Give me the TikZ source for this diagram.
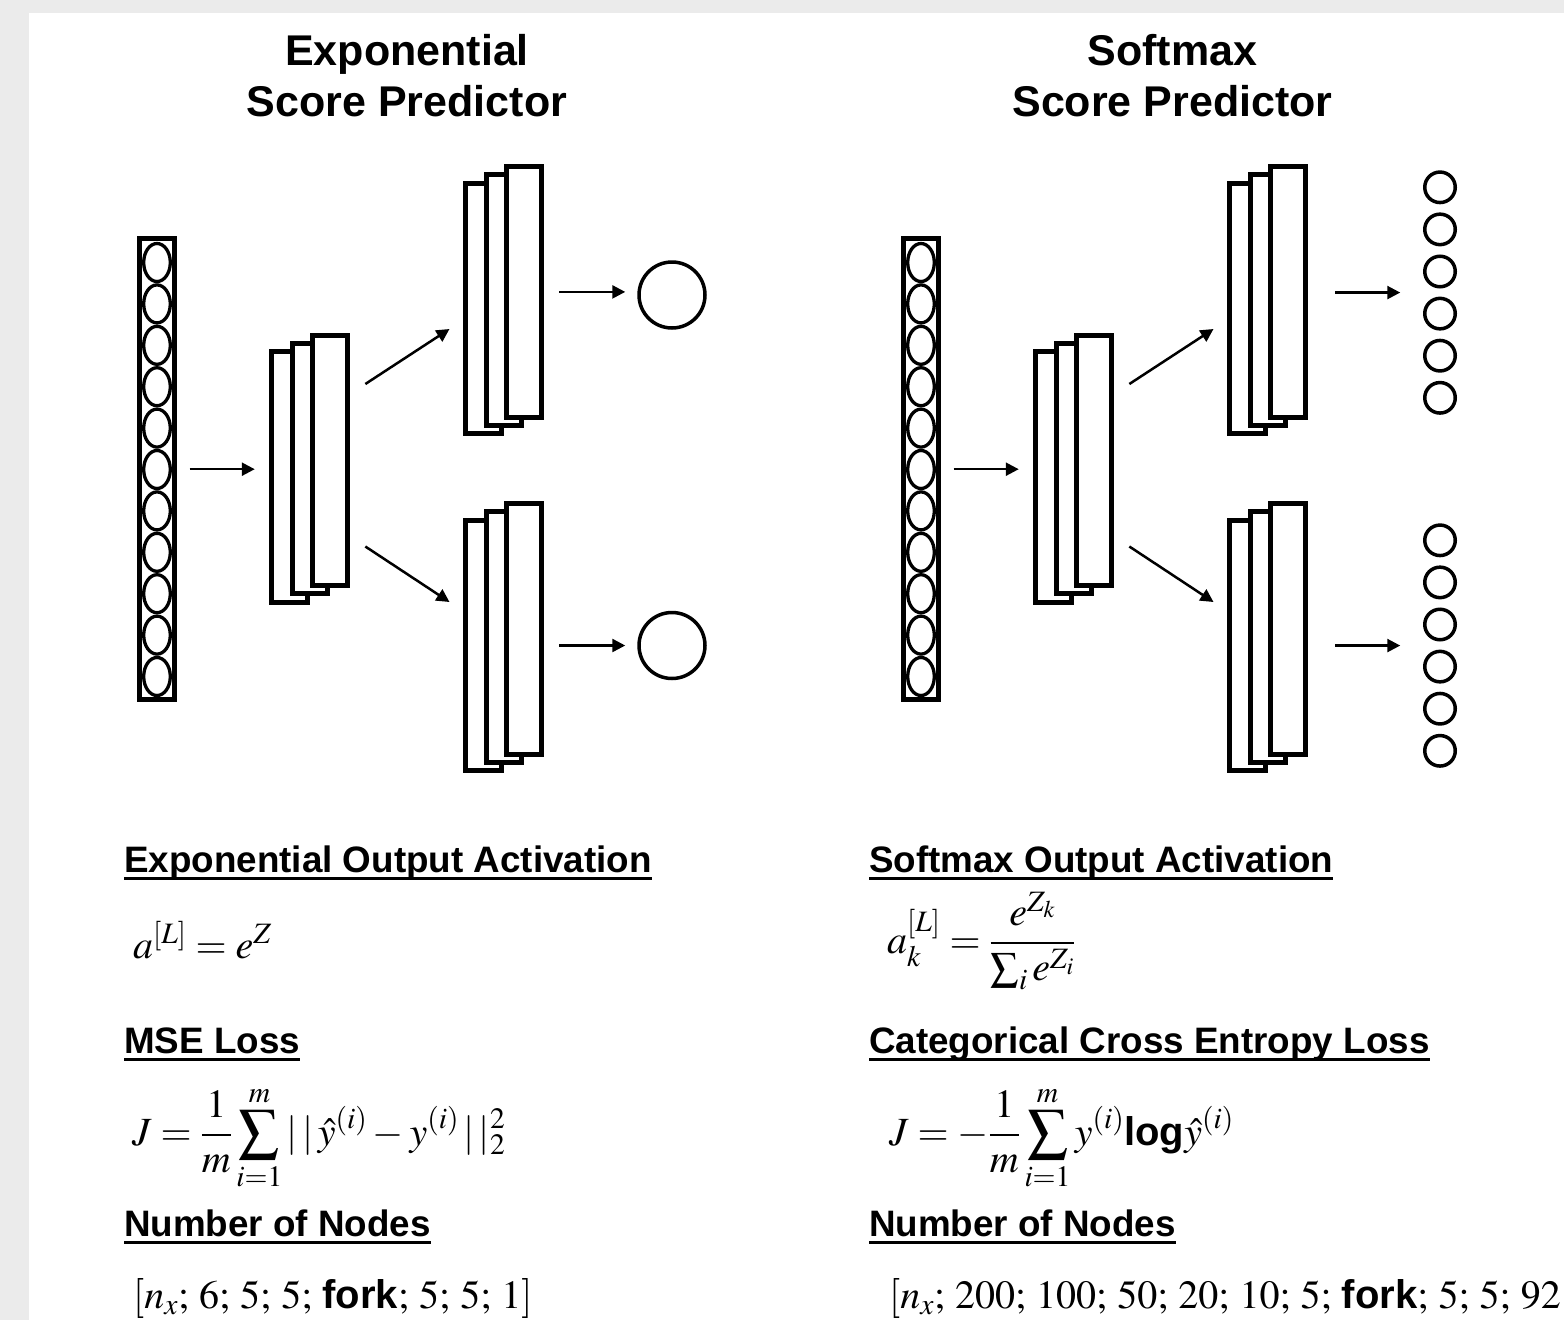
\documentclass[tikz,border=0pt]{standalone}
\usepackage{mathptmx}
\usepackage[no-math]{fontspec}
\newfontfamily\headfont{Liberation Sans}
\usetikzlibrary{shapes.geometric,arrows.meta,calc}
\definecolor{frame}{HTML}{EBEBEB}

% underlined heading, rule sits just under the baseline
\newcommand{\ulhead}[1]{\setbox0\hbox{#1}\rlap{\rule[-0.21em]{\wd0}{0.07em}}\box0}
\newcommand{\bsf}[1]{\mbox{\headfont\bfseries #1}}
% list separator with a wider gap than \mathpunct gives
\newcommand{\nsep}{\mathord{;}\mskip4.5mu}

\begin{document}
\begin{tikzpicture}[
  x=1pt, y=-1pt,
  column/.style={draw, line width=5pt, minimum width=35pt, minimum height=461.5pt, inner sep=0pt},
  unit/.style={ellipse, draw, line width=3.3pt, minimum width=26.6pt, minimum height=38pt, inner sep=0pt},
  layer/.style={draw, line width=5pt, fill=white, minimum width=35.5pt, minimum height=250.5pt, inner sep=0pt},
  score/.style={circle, draw, line width=3.5pt, minimum size=66pt, inner sep=0pt},
  cls/.style={circle, draw, line width=3.5pt, minimum size=30.5pt, inner sep=0pt},
  >={Triangle[length=13pt,width=13pt]},
  arr/.style={->, line width=2.5pt},
  title/.style={font=\headfont\bfseries\fontsize{43}{51}\selectfont, align=center, inner sep=0pt, anchor=base},
  head/.style={font=\headfont\bfseries\fontsize{36.8}{44}\selectfont, anchor=base west, inner sep=0pt},
  eq/.style={font=\fontsize{40}{48}\selectfont, anchor=base west, inner sep=0pt}
]
\useasboundingbox (0,0) rectangle (1564,1320);
\fill[frame] (0,0) rectangle (1564,1320);
\fill[white] (29,13) rectangle (1564,1320);

% ---------------------------------------------------------------- exponential net
\node[title] (ttlL) at (407,116) {Exponential\\Score Predictor};

\node[column] (inL) at (157,469.2) {};
\foreach \k in {0,...,10}
  \node[unit] (inL\k) at (157,262.5+41.4*\k) {};

\node[layer] (hidLa) at (289.5,477) {};
\node[layer] (hidLb) at ([shift={(20.3,-8.3)}]hidLa) {};
\node[layer] (hidLc) at ([shift={(20.3,-8.3)}]hidLb) {};

\node[layer] (upLa) at (483.5,308.5) {};
\node[layer] (upLb) at ([shift={(20.3,-8.3)}]upLa) {};
\node[layer] (upLc) at ([shift={(20.3,-8.3)}]upLb) {};

\node[layer] (dnLa) at (483.5,645.5) {};
\node[layer] (dnLb) at ([shift={(20.3,-8.3)}]dnLa) {};
\node[layer] (dnLc) at ([shift={(20.3,-8.3)}]dnLb) {};

\node[score] (scoreU) at (672,295) {};
\node[score] (scoreD) at (672,645.5) {};

\draw[arr] ([xshift=12.5pt]inL.east) -- ([xshift=-14.5pt]inL.east -| hidLa.west);
\draw[arr] ([shift={(15,-76.4)}]hidLc.east) -- ([shift={(-13.75,20.5)}]upLa.west);
\draw[arr] ([shift={(15,86.1)}]hidLc.east) -- ([shift={(-13.75,-43.5)}]dnLa.west);
\draw[arr] ([xshift=15pt]upLc.east) -- ([xshift=-12pt]upLc.east -| scoreU.west);
\draw[arr] ([xshift=15pt]scoreD.west -| dnLc.east) -- ([xshift=-12pt]scoreD.west);

% ---------------------------------------------------------------- softmax net
\node[title] (ttlR) at (1172.5,116) {Softmax\\Score Predictor};

\node[column] (inR) at (921,469.2) {};
\foreach \k in {0,...,10}
  \node[unit] (inR\k) at (921,262.5+41.4*\k) {};

\node[layer] (hidRa) at (1053.5,477) {};
\node[layer] (hidRb) at ([shift={(20.3,-8.3)}]hidRa) {};
\node[layer] (hidRc) at ([shift={(20.3,-8.3)}]hidRb) {};

\node[layer] (upRa) at (1247.5,308.5) {};
\node[layer] (upRb) at ([shift={(20.3,-8.3)}]upRa) {};
\node[layer] (upRc) at ([shift={(20.3,-8.3)}]upRb) {};

\node[layer] (dnRa) at (1247.5,645.5) {};
\node[layer] (dnRb) at ([shift={(20.3,-8.3)}]dnRa) {};
\node[layer] (dnRc) at ([shift={(20.3,-8.3)}]dnRb) {};

\foreach \k in {0,...,5} {
  \node[cls] (clsU\k) at (1440,187.3+42.1*\k) {};
  \node[cls] (clsD\k) at (1440,540.3+42.1*\k) {};
}
\coordinate (midU) at ($(clsU2.west)!0.5!(clsU3.west)$);
\coordinate (midD) at ($(clsD2.west)!0.5!(clsD3.west)$);

\draw[arr] ([xshift=12.5pt]inR.east) -- ([xshift=-14.5pt]inR.east -| hidRa.west);
\draw[arr] ([shift={(15,-76.4)}]hidRc.east) -- ([shift={(-13.75,20.5)}]upRa.west);
\draw[arr] ([shift={(15,86.1)}]hidRc.east) -- ([shift={(-13.75,-43.5)}]dnRa.west);
\draw[arr] ([xshift=27pt]midU -| upRc.east) -- ([xshift=-22.75pt]midU);
\draw[arr] ([xshift=27pt]midD -| dnRc.east) -- ([xshift=-22.75pt]midD);

% ---------------------------------------------------------------- formulas
\node[head] (actL) at (124,872) {\ulhead{Exponential Output Activation}};
\node[eq] (eqactL) at (133,958) {$a^{[L]} = e^{Z}$};
\node[head] (lossL) at (124,1053) {\ulhead{MSE Loss}};
\node[eq] (eqlossL) at (132,1145) {$\displaystyle J = \frac{1}{m}\sum_{i=1}^{m} |\,|\,\hat{y}^{(i)} - y^{(i)}\,|\,|_2^2$};
\node[head] (sizeL) at (124,1236) {\ulhead{Number of Nodes}};
\node[eq] (nodesL) at (133,1308) {$[n_x\nsep 6\nsep 5\nsep 5\nsep \bsf{fork}\nsep 5\nsep 5\nsep 1]$};

\node[head] (actR) at (869,872) {\ulhead{Softmax Output Activation}};
\node[eq] (eqactR) at (887,953) {$\displaystyle a_k^{[L]} = \frac{e^{Z_k}}{\sum_i e^{Z_i}}$};
\node[head] (lossR) at (869,1053) {\ulhead{Categorical Cross Entropy Loss}};
\node[eq] (eqlossR) at (889,1145) {$\displaystyle J = -\frac{1}{m}\sum_{i=1}^{m} y^{(i)}\bsf{log}\hat{y}^{(i)}$};
\node[head] (sizeR) at (869,1236) {\ulhead{Number of Nodes}};
\node[eq] (nodesR) at (889,1308) {$[n_x\nsep 200\nsep 100\nsep 50\nsep 20\nsep 10\nsep 5\nsep \bsf{fork}\nsep 5\nsep 5\nsep 92$};
\end{tikzpicture}
\end{document}
